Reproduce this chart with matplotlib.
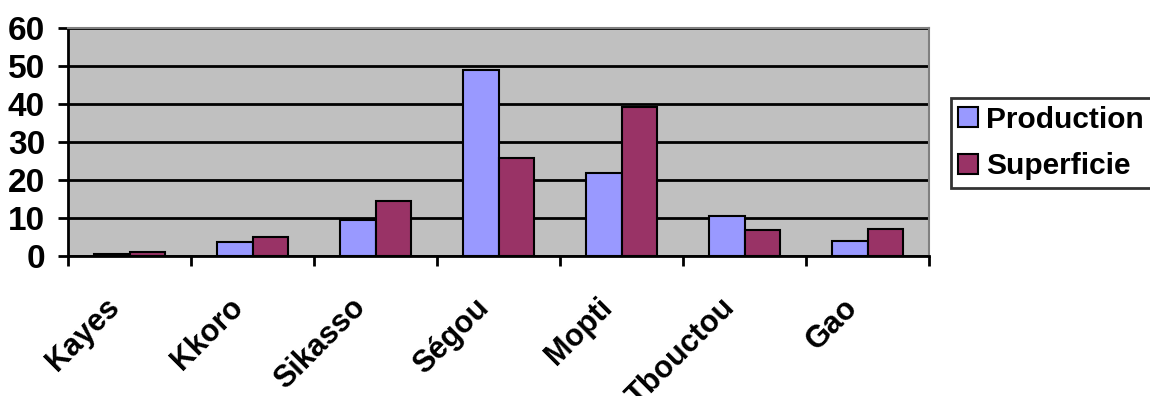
import numpy as np
import matplotlib
matplotlib.use("Agg")
import matplotlib.pyplot as plt
from matplotlib.transforms import ScaledTranslation

regions = ["Kayes", "Kkoro", "Sikasso", "Ségou", "Mopti", "Tbouctou", "Gao"]
production = [0.6, 3.7, 9.5, 49.0, 21.8, 10.5, 3.9]
superficie = [1.0, 5.0, 14.5, 25.8, 39.2, 6.8, 7.1]
y_ticks = [0, 10, 20, 30, 40, 50, 60]

plt.rcParams['font.family'] = ['Liberation Sans', 'DejaVu Sans']
plt.rcParams['font.weight'] = 'bold'

fig = plt.figure(figsize=(11.5, 3.96), dpi=100)
ax = fig.add_axes([68 / 1150, 1 - 256 / 396, (929 - 68) / 1150, (256 - 28) / 396])
ax.set_facecolor('#C0C0C0')

x = np.arange(len(regions))
w = 0.29
ax.bar(x - w / 2, production, w, color='#9999FF', edgecolor='black', linewidth=1.5,
       label='Production', zorder=3)
ax.bar(x + w / 2, superficie, w, color='#993366', edgecolor='black', linewidth=1.5,
       label='Superficie', zorder=3)

ax.set_xlim(-0.5, len(regions) - 0.5)
ax.set_ylim(0, 60)
ax.set_yticks(y_ticks)
ax.set_yticklabels([str(v) for v in y_ticks])
ax.yaxis.grid(True, color='black', linewidth=2, zorder=1)
ax.set_axisbelow(True)

# category ticks sit between the groups, names under the centres
ax.set_xticks(np.arange(len(regions) + 1) - 0.5)
ax.set_xticklabels([])
ax.set_xticks(x, minor=True)
ax.set_xticklabels(regions, minor=True, rotation=45, ha='right', va='center',
                   rotation_mode='anchor')
ax.tick_params(axis='x', which='minor', length=0, pad=34, labelsize=22)
ax.tick_params(axis='x', which='major', length=7.5, width=2, direction='out')
ax.tick_params(axis='y', length=7.5, width=2, direction='out', pad=9, labelsize=24)

shift = ScaledTranslation(-0.14, 0, fig.dpi_scale_trans)
for lbl in ax.get_xticklabels(minor=True):
    lbl.set_fontweight('bold')
    lbl.set_transform(lbl.get_transform() + shift)
for lbl in ax.get_yticklabels():
    lbl.set_fontweight('bold')

for side in ['left', 'bottom']:
    ax.spines[side].set_linewidth(2)
    ax.spines[side].set_color('black')
for side in ['top', 'right']:
    ax.spines[side].set_linewidth(1.5)
    ax.spines[side].set_color('#808080')

# legend box runs off the right edge of the figure
leg = fig.legend(loc='center left', bbox_to_anchor=(951 / 1150, 1 - 143 / 396, 0.2, 0),
                 mode='expand', fontsize=21.5, frameon=True, fancybox=False,
                 edgecolor='black', handlelength=0.65, handleheight=0.65,
                 handletextpad=0.27, borderpad=0.25, labelspacing=0.62,
                 borderaxespad=0)
leg.get_frame().set_linewidth(2)
for t in leg.get_texts():
    t.set_fontweight('bold')

fig.savefig('out.png', dpi=100, facecolor='white')
